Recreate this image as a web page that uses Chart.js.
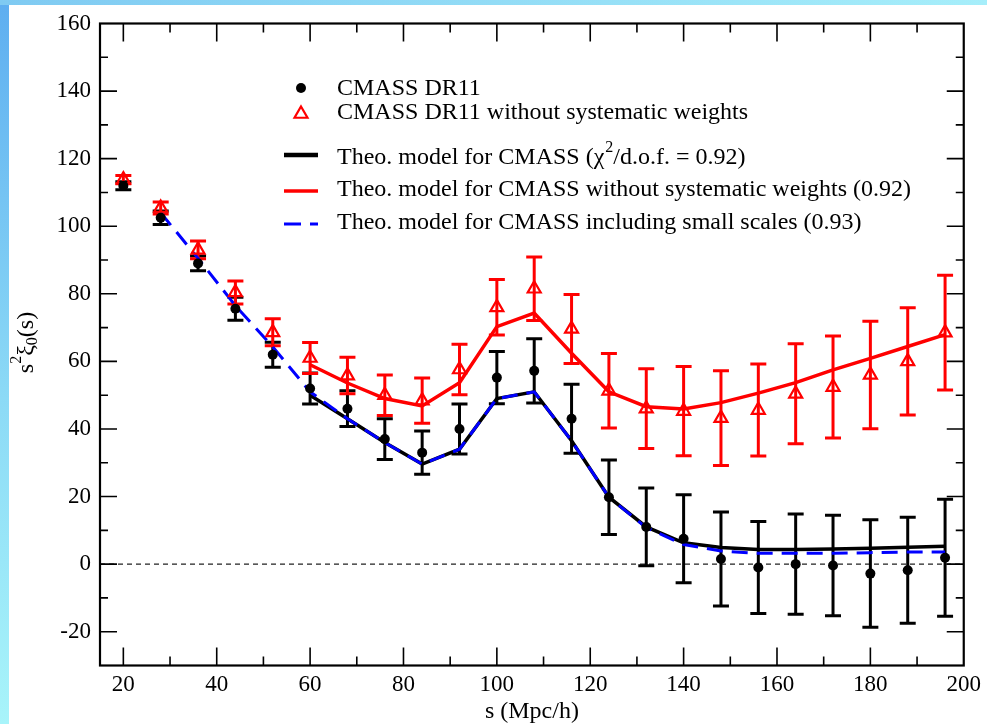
<!DOCTYPE html>
<html>
<head>
<meta charset="utf-8">
<script src="https://cdn.jsdelivr.net/npm/chart.js@4.4.1/dist/chart.umd.min.js"></script>
<style>
  html, body { margin: 0; padding: 0; }
  body {
    width: 987px; height: 724px; overflow: hidden; position: relative;
    background: linear-gradient(to bottom, #5eaef0 0%, #8cdaf6 55%, #a8f4fa 100%);
  }
  #topband { position: absolute; left: 0; top: 0; width: 987px; height: 5px;
             background: linear-gradient(to right, #7fcaf2, #a6eefa); }
  #panel { position: absolute; left: 9px; top: 5px; right: 0; bottom: 0; background: #fff; }
  #c { position: absolute; left: 0; top: 0; }
</style>
</head>
<body>
<div id="topband"></div>
<div id="panel"></div>
<canvas id="c" width="987" height="724"></canvas>
<script>
const FONT = '"Liberation Serif", "Times New Roman", serif';

// separation bins s (Mpc/h)
const s = [20, 28, 36, 44, 52, 60, 68, 76, 84, 92, 100, 108, 116, 124, 132, 140, 148, 156, 164, 172, 180, 188, 196];

// CMASS DR11 measurement and 1-sigma errors
const cmass    = [112, 102.5, 89, 75.6, 62, 52, 46, 37, 33, 40, 55.2, 57.2, 43, 19.8, 11, 7.5, 1.5, -1, 0, -0.4, -2.8, -1.8, 1.9];
const cmassErr = [1.2, 2, 2.2, 3.4, 3.7, 4.6, 5.3, 6, 6.4, 7.4, 7.7, 9.5, 10.2, 11, 11.5, 13, 13.9, 13.6, 14.8, 14.9, 15.9, 15.7, 17.3];

// CMASS DR11 without systematic weights
const noWeights    = [113.8, 105.4, 93, 80.4, 68.6, 61, 55.8, 50, 48.4, 57.6, 76, 81.5, 69.6, 51.3, 46, 45.3, 43.2, 45.6, 50.4, 52.4, 56, 60, 68.5];
const noWeightsErr = [1.2, 1.8, 2.6, 3.4, 4, 4.6, 5.4, 6, 6.7, 7.5, 8.2, 9.4, 10.2, 11, 11.8, 13.2, 14, 13.6, 14.8, 15.1, 15.9, 15.9, 17];

// theoretical models
const modelS       = [60, 68, 76, 84, 92, 100, 108, 116, 124, 132, 140, 148, 156, 164, 172, 180, 188, 196];
const modelCmass   = [50, 43, 36, 29.6, 34, 49, 51, 36.5, 19.8, 11, 6.3, 4.9, 4.3, 4.3, 4.5, 4.7, 5, 5.3];
const modelNoW     = [59, 53.6, 49, 46.8, 53.7, 70.3, 74.3, 62.4, 51, 46.6, 45.9, 47.8, 50.6, 53.7, 57.5, 60.9, 64.4, 67.9];
const smallS       = [28, 36, 44, 52, 60, 68, 76, 84, 92, 100, 108, 116, 124, 132, 140, 148, 156, 164, 172, 180, 188, 196];
const modelSmall   = [104, 90.5, 76.5, 64.3, 51, 43, 36, 29.6, 34, 49, 51, 36.5, 19.8, 10.8, 5.8, 3.9, 3.2, 3.2, 3.2, 3.4, 3.6, 3.6];

const legendLabels = [
  'CMASS DR11',
  'CMASS DR11 without systematic weights',
  'Theo. model for CMASS (\u03C7',
  'Theo. model for CMASS without systematic weights (0.92)',
  'Theo. model for CMASS including small scales (0.93)'
];

const toPts = (xs, ys) => xs.map((x, i) => ({ x: x, y: ys[i] }));

// error bars + zero line, under the datasets
const errorBars = {
  id: 'errorBars',
  beforeDatasetsDraw(chart) {
    const ctx = chart.ctx, xs = chart.scales.x, ys = chart.scales.y, a = chart.chartArea;
    ctx.save();
    ctx.beginPath();
    ctx.rect(a.left, a.top, a.right - a.left, a.bottom - a.top);
    ctx.clip();

    const y0 = ys.getPixelForValue(0);
    ctx.setLineDash([5, 4]);
    ctx.lineWidth = 1.2;
    ctx.strokeStyle = '#222';
    ctx.beginPath();
    ctx.moveTo(a.left, y0);
    ctx.lineTo(a.right, y0);
    ctx.stroke();
    ctx.setLineDash([]);

    [[cmass, cmassErr, '#000'], [noWeights, noWeightsErr, '#ff0000']].forEach(([vals, errs, col]) => {
      ctx.strokeStyle = col;
      ctx.lineWidth = 3;
      s.forEach((sv, i) => {
        const px = xs.getPixelForValue(sv);
        const top = ys.getPixelForValue(vals[i] + errs[i]);
        const bot = ys.getPixelForValue(vals[i] - errs[i]);
        ctx.beginPath();
        ctx.moveTo(px, top); ctx.lineTo(px, bot);
        ctx.moveTo(px - 8, top); ctx.lineTo(px + 8, top);
        ctx.moveTo(px - 8, bot); ctx.lineTo(px + 8, bot);
        ctx.stroke();
      });
    });
    ctx.restore();
  }
};

// frame, inward ticks, y title, legend
const frame = {
  id: 'frame',
  afterDraw(chart) {
    const ctx = chart.ctx, xs = chart.scales.x, ys = chart.scales.y, a = chart.chartArea;
    ctx.save();
    ctx.strokeStyle = '#000';
    ctx.lineWidth = 1.6;
    ctx.beginPath();
    for (let v = 20; v < 200; v += 10) {
      const px = xs.getPixelForValue(v), len = v % 20 === 0 ? 18 : 9;
      ctx.moveTo(px, a.bottom); ctx.lineTo(px, a.bottom - len);
      ctx.moveTo(px, a.top); ctx.lineTo(px, a.top + len);
    }
    for (let v = -20; v < 160; v += 10) {
      const py = ys.getPixelForValue(v), len = v % 20 === 0 ? 17 : 8;
      ctx.moveTo(a.left, py); ctx.lineTo(a.left + len, py);
      ctx.moveTo(a.right, py); ctx.lineTo(a.right - len, py);
    }
    ctx.stroke();
    ctx.lineWidth = 2.2;
    ctx.strokeRect(a.left, a.top, a.right - a.left, a.bottom - a.top);

    // y axis title  s^2 xi_0(s)
    ctx.save();
    ctx.translate(33, (a.top + a.bottom) / 2 - 2);
    ctx.rotate(-Math.PI / 2);
    const big = '24px ' + FONT, small = '16px ' + FONT;
    const parts = [['s', big, 0], ['2', small, -12], ['\u03BE', big, 0], ['0', small, 4], ['(s)', big, 0]];
    let w = 0;
    parts.forEach(p => { ctx.font = p[1]; w += ctx.measureText(p[0]).width; });
    let x = -w / 2;
    ctx.fillStyle = '#000';
    ctx.textBaseline = 'alphabetic';
    parts.forEach(p => { ctx.font = p[1]; ctx.fillText(p[0], x, p[2]); x += ctx.measureText(p[0]).width; });
    ctx.restore();

    // legend
    const LX = 337, MX = 301;
    ctx.fillStyle = '#000';
    ctx.textBaseline = 'middle';
    ctx.textAlign = 'left';
    ctx.font = '24px ' + FONT;

    ctx.beginPath();
    ctx.arc(MX, 88, 5, 0, Math.PI * 2);
    ctx.fill();
    ctx.fillText(legendLabels[0], LX, 89);

    ctx.strokeStyle = '#ff0000';
    ctx.lineWidth = 2.2;
    ctx.beginPath();
    for (let k = 0; k < 3; k++) {
      const ang = -Math.PI / 2 + k * 2 * Math.PI / 3;
      const tx = MX + 7.5 * Math.cos(ang), ty = 114 + 7.5 * Math.sin(ang);
      if (k === 0) ctx.moveTo(tx, ty); else ctx.lineTo(tx, ty);
    }
    ctx.closePath();
    ctx.stroke();
    ctx.fillText(legendLabels[1], LX, 113);

    ctx.lineWidth = 4.5;
    ctx.strokeStyle = '#000';
    ctx.beginPath(); ctx.moveTo(284, 155); ctx.lineTo(318, 155); ctx.stroke();
    let tx = LX;
    ctx.fillText(legendLabels[2], tx, 158);
    tx += ctx.measureText(legendLabels[2]).width;
    ctx.font = '16px ' + FONT;
    ctx.fillText('2', tx + 1, 148);
    tx += ctx.measureText('2').width + 1;
    ctx.font = '24px ' + FONT;
    ctx.fillText('/d.o.f. = 0.92)', tx, 158);

    ctx.lineWidth = 3.5;
    ctx.strokeStyle = '#ff0000';
    ctx.beginPath(); ctx.moveTo(284, 191); ctx.lineTo(318, 191); ctx.stroke();
    ctx.fillText(legendLabels[3], LX, 190);

    ctx.lineWidth = 3;
    ctx.strokeStyle = '#0000ff';
    ctx.setLineDash([17, 9]);
    ctx.beginPath(); ctx.moveTo(284, 224); ctx.lineTo(318, 224); ctx.stroke();
    ctx.setLineDash([]);
    ctx.fillText(legendLabels[4], LX, 223);

    ctx.restore();
  }
};

new Chart(document.getElementById('c'), {
  type: 'scatter',
  data: {
    datasets: [
      { label: legendLabels[0], data: toPts(s, cmass), pointStyle: 'circle', pointRadius: 5,
        backgroundColor: '#000', borderColor: '#000', borderWidth: 0, order: 0 },
      { label: legendLabels[1], data: toPts(s, noWeights), pointStyle: 'triangle', pointRadius: 7.5,
        backgroundColor: 'rgba(0,0,0,0)', borderColor: '#ff0000', borderWidth: 2.2, order: 1 },
      { label: legendLabels[4], data: toPts(smallS, modelSmall), showLine: true, borderColor: '#0000ff',
        borderWidth: 3, borderDash: [16, 9], pointRadius: 0, order: 2 },
      { label: 'Theo. model for CMASS', data: toPts(modelS, modelCmass), showLine: true, borderColor: '#000',
        borderWidth: 3.5, pointRadius: 0, order: 3 },
      { label: legendLabels[3], data: toPts(modelS, modelNoW), showLine: true, borderColor: '#ff0000',
        borderWidth: 3.5, pointRadius: 0, order: 4 }
    ]
  },
  options: {
    responsive: false,
    animation: false,
    layout: { padding: { left: 0, top: 23.5, right: 17, bottom: 0 } },
    plugins: { legend: { display: false }, tooltip: { enabled: false } },
    scales: {
      x: {
        type: 'linear', min: 15, max: 200,
        grid: { display: false, drawTicks: false },
        border: { display: false },
        ticks: { stepSize: 20, includeBounds: false, padding: 6, color: '#000', maxRotation: 0, autoSkip: false,
                 font: { family: FONT, size: 23 } },
        title: { display: true, text: 's (Mpc/h)', color: '#000', font: { family: FONT, size: 24, lineHeight: 1.0 },
                 padding: { top: 0, bottom: 0 } },
        afterFit: sc => { sc.height = 58.5; }
      },
      y: {
        type: 'linear', min: -30, max: 160,
        grid: { display: false, drawTicks: false },
        border: { display: false },
        ticks: { stepSize: 20, includeBounds: false, padding: 9, color: '#000', autoSkip: false,
                 font: { family: FONT, size: 23 } },
        afterFit: sc => { sc.width = 100; }
      }
    }
  },
  plugins: [errorBars, frame]
});
</script>
</body>
</html>
